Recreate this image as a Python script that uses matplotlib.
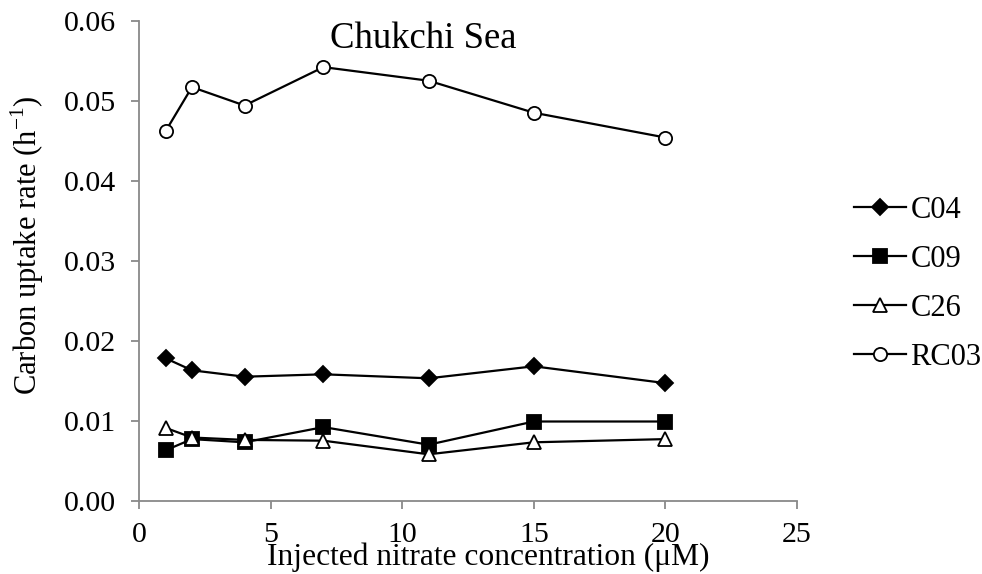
import matplotlib
matplotlib.use("Agg")
from matplotlib import pyplot as plt

# nitrate added (uM) and carbon uptake rates (h-1) per station
nitrate = [1, 2, 4, 7, 11, 15, 20]
c04 = [0.0178, 0.0163, 0.0155, 0.0158, 0.0153, 0.0168, 0.0147]
c09 = [0.0063, 0.0077, 0.0073, 0.0092, 0.0070, 0.0099, 0.0099]
c26 = [0.0091, 0.0079, 0.0076, 0.0075, 0.0058, 0.0073, 0.0077]
rc03 = [0.0462, 0.0517, 0.0494, 0.0542, 0.0525, 0.0485, 0.0454]

plt.rcParams['font.family'] = ['Liberation Serif', 'DejaVu Serif']
plt.rcParams['font.size'] = 22
plt.rcParams['mathtext.fontset'] = 'custom'
plt.rcParams['mathtext.rm'] = 'Liberation Serif'

fig = plt.figure(figsize=(9.82, 5.74), dpi=100)
ax = fig.add_axes([0.1419, 0.1277, 0.6695, 0.8362])

kw = dict(color='black', lw=1.6, markeredgecolor='black', markeredgewidth=1.3)
ax.plot(nitrate, c04, marker='D', ms=8, mfc='black', label='C04', **kw)
ax.plot(nitrate, c09, marker='s', ms=9.5, mfc='black', label='C09', **kw)
ax.plot(nitrate, c26, marker='^', ms=10, mfc='white', label='C26', **kw)
ax.plot(nitrate, rc03, marker='o', ms=9.5, mfc='white', label='RC03', **kw)

ax.set_xlim(0, 25)
ax.set_ylim(0, 0.06)
ax.set_xticks([0, 5, 10, 15, 20, 25])
ax.set_yticks([0, 0.01, 0.02, 0.03, 0.04, 0.05, 0.06])
ax.set_yticklabels(['0.00', '0.01', '0.02', '0.03', '0.04', '0.05', '0.06'])

for s in ['top', 'right']:
    ax.spines[s].set_visible(False)
for s in ['left', 'bottom']:
    ax.spines[s].set_color('#898989')
    ax.spines[s].set_linewidth(1.3)
ax.tick_params(direction='out', length=6, color='#898989', width=1.3, labelsize=21.5)
ax.tick_params(axis='y', pad=11)
ax.tick_params(axis='x', pad=9)

ax.set_xlabel('Injected nitrate concentration (\u03bcM)', fontsize=22.7, va='baseline')
ax.xaxis.set_label_coords(0.530, -0.134)
ax.set_ylabel('Carbon uptake rate (h$^{\\mathregular{-1}}$)', fontsize=22, va='center')
ax.yaxis.set_label_coords(-0.170, 0.533)
fig.text(330 / 982, 1 - 48 / 574, 'Chukchi Sea', ha='left', va='baseline', fontsize=26.5)

ax.legend(loc='upper left', bbox_to_anchor=(1.068, 0.66), frameon=False, fontsize=22,
          handlelength=1.7, handletextpad=0.15, labelspacing=0.65, borderaxespad=0)

plt.savefig('out.png', dpi=100)
